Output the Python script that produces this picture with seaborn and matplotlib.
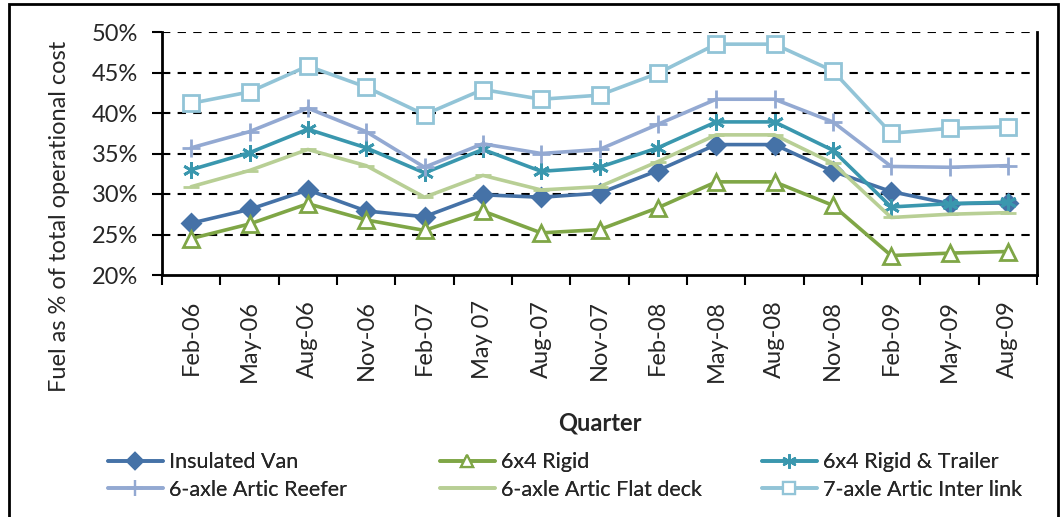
import numpy as np
import pandas as pd
import matplotlib
matplotlib.use("Agg")
import matplotlib.pyplot as plt
import seaborn as sns
from matplotlib.lines import Line2D
from matplotlib.patches import Rectangle

quarters = ["Feb-06", "May-06", "Aug-06", "Nov-06", "Feb-07", "May 07", "Aug-07", "Nov-07",
            "Feb-08", "May-08", "Aug-08", "Nov-08", "Feb-09", "May-09", "Aug-09"]

insulated_van = [26.4, 28.1, 30.5, 27.9, 27.2, 29.9, 29.6, 30.1, 32.9, 36.1, 36.1, 32.8, 30.3, 28.8, 28.9]
rigid_6x4 = [24.5, 26.3, 28.8, 26.8, 25.5, 27.9, 25.2, 25.6, 28.3, 31.5, 31.5, 28.6, 22.4, 22.7, 22.9]
rigid_trailer = [33.0, 35.1, 38.0, 35.7, 32.6, 35.5, 32.8, 33.3, 35.7, 38.9, 38.9, 35.4, 28.4, 28.8, 29.0]
artic_reefer = [35.7, 37.7, 40.6, 37.7, 33.3, 36.2, 35.0, 35.5, 38.6, 41.7, 41.7, 38.9, 33.4, 33.3, 33.5]
artic_flat = [30.9, 32.9, 35.5, 33.5, 29.6, 32.3, 30.5, 30.9, 34.0, 37.3, 37.3, 33.8, 27.1, 27.5, 27.7]
artic_interlink = [41.2, 42.6, 45.8, 43.2, 39.8, 42.9, 41.7, 42.2, 44.9, 48.5, 48.5, 45.2, 37.5, 38.1, 38.3]

series_names = ["Insulated Van", "6x4 Rigid", "6x4 Rigid & Trailer",
                "6-axle Artic Reefer", "6-axle Artic Flat deck", "7-axle Artic Inter link"]
series_values = [insulated_van, rigid_6x4, rigid_trailer, artic_reefer, artic_flat, artic_interlink]
colors = ["#4572A7", "#7FA646", "#3A97AE", "#93A9D2", "#B8CF95", "#92C4D7"]
markers = ["D", "^", (6, 2, 0), "+", "_", "s"]
filled = [True, False, True, True, True, False]
msizes = [9, 11, 12, 13, 12, 11]

sns.set_style("white")
plt.rcParams["font.family"] = ["Lato", "DejaVu Sans"]
FS = 17

fig = plt.figure(figsize=(10.64, 5.17), dpi=100)
ax = fig.add_axes([162 / 1064, 1 - 275 / 517, (1037 - 162) / 1064, (275 - 32) / 517])

x = np.arange(len(quarters))
handles = []
for name, vals, c, m, f, ms in zip(series_names, series_values, colors, markers, filled, msizes):
    df = pd.DataFrame({"q": x, "v": np.array(vals) / 100})
    sns.lineplot(data=df, x="q", y="v", ax=ax, color=c, linewidth=2.6,
                 marker=m, markersize=ms, markeredgewidth=2,
                 markerfacecolor=c if f else "white", markeredgecolor=c, zorder=3)
    handles.append(Line2D([0], [0], color=c, linewidth=2.6, marker=m, markersize=ms * 0.85,
                          markeredgewidth=1.6, markerfacecolor=c if f else "white",
                          markeredgecolor=c))

ax.set_xlim(-0.5, len(quarters) - 0.5)
ax.set_ylim(0.20, 0.50)
yt = np.arange(0.20, 0.501, 0.05)
ax.set_yticks(yt)
ax.set_yticklabels([f"{int(round(t * 100))}%" for t in yt], fontsize=FS)
ax.set_xticks(x)
ax.set_xticklabels(quarters, rotation=90, fontsize=FS)
ax.tick_params(axis="x", length=0, pad=18)
ax.tick_params(axis="y", length=7, width=1.5, direction="out", color="black", pad=10, left=True)
# x tick marks between categories
ax.set_xticks(np.arange(-0.5, len(quarters), 1), minor=True)
ax.tick_params(axis="x", which="minor", length=7, width=1.5, direction="out", color="black", bottom=True)

for t in yt[1:]:
    ax.axhline(t, color="black", linestyle=(0, (4, 3.5)), linewidth=1.5, zorder=1)

for s in ["left", "bottom", "right"]:
    ax.spines[s].set_visible(True)
    ax.spines[s].set_color("black")
    ax.spines[s].set_linewidth(2)
ax.spines["top"].set_visible(False)

ax.set_ylabel("Fuel as % of total operational cost", fontsize=FS)
ax.yaxis.set_label_coords(-0.105, 0.24)
ax.set_xlabel("Quarter", fontsize=FS, fontweight="bold")
ax.xaxis.set_label_coords(0.5, -0.56)

# legend: three columns, filled row by row
col_x = [108, 440, 762]
for i, cx in enumerate(col_x):
    leg = fig.legend([handles[i], handles[i + 3]], [series_names[i], series_names[i + 3]],
                     loc="center left", frameon=False, fontsize=15.5,
                     bbox_to_anchor=(cx / 1064, 1 - 476 / 517), handlelength=2.55,
                     handletextpad=0.3, labelspacing=0.35, borderpad=0, borderaxespad=0)
    fig.add_artist(leg)

fig.patches.append(Rectangle((9 / 1064, -0.05), (1058 - 9) / 1064, 1.05 - 4 / 517,
                             transform=fig.transFigure, fill=False, edgecolor="black",
                             linewidth=2))

fig.savefig("out.png", dpi=100)
